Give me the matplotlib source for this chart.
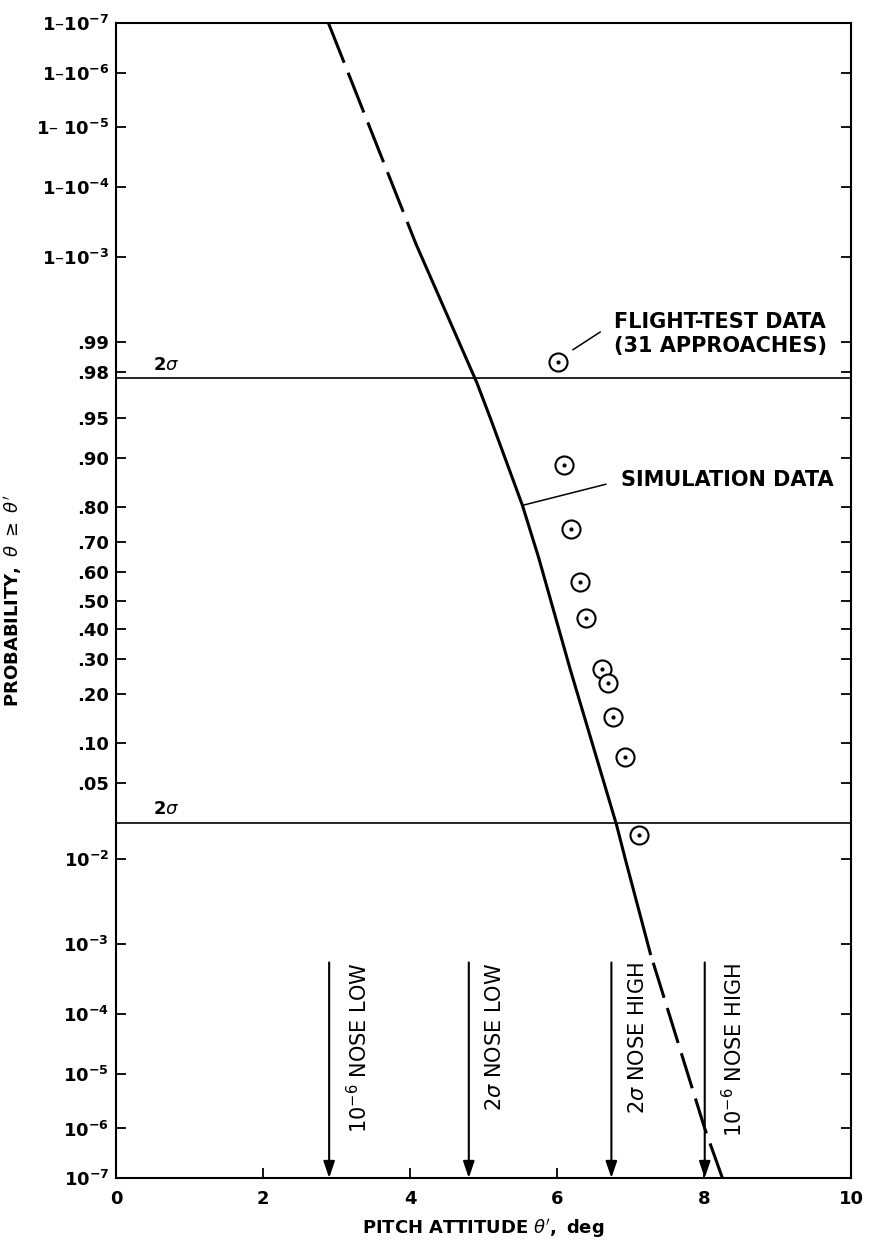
import math
import numpy as np
import matplotlib
matplotlib.use('Agg')
import matplotlib.pyplot as plt
from matplotlib.ticker import FixedLocator, NullLocator

plt.rcParams['font.family'] = 'DejaVu Sans'
plt.rcParams['mathtext.fontset'] = 'dejavusans'

# --- data ---
# simulation curve (pitch attitude deg, probability theta >= theta')
sim_hi_x = [2.89, 4.08]                       # dashed extrapolation, top
sim_hi_p = [1 - 1e-7, 0.99934]
sim_x = [4.08, 4.91, 5.10, 5.53, 5.75, 6.18, 6.81, 6.93, 7.27]
sim_p = [0.99934, 0.9750, 0.9484, 0.804, 0.6506, 0.2676, 0.0217, 0.0099, 7.4e-4]
sim_lo_x = [8.25, 8.01, 7.27]                 # dashed extrapolation, bottom (drawn upward)
sim_lo_p = [1e-7, 1e-6, 7.4e-4]

# flight-test data (31 approaches)
ft_x = [6.02, 6.10, 6.19, 6.31, 6.39, 6.61, 6.69, 6.76, 6.93, 7.11]
ft_p = [0.9842, 0.8886, 0.7389, 0.5655, 0.4368, 0.2699, 0.2293, 0.1473, 0.0796, 0.0175]

# 2 sigma levels
two_sigma_p = [0.02275, 0.97725]

# limit arrows
arrow_x = [2.90, 4.80, 6.74, 8.01]
arrow_labels = [r'$\mathrm{10^{-6}}$ NOSE LOW', r'2$\sigma$ NOSE LOW',
                r'2$\sigma$ NOSE HIGH', r'$\mathrm{10^{-6}}$ NOSE HIGH']
arrow_top_p = 5.6e-4

prob_ticks = [1e-7, 1e-6, 1e-5, 1e-4, 1e-3, 1e-2, .05, .10, .20, .30, .40, .50,
              .60, .70, .80, .90, .95, .98, .99,
              1 - 1e-3, 1 - 1e-4, 1 - 1e-5, 1 - 1e-6, 1 - 1e-7]
prob_labels = [r'$\mathbf{10^{-7}}$', r'$\mathbf{10^{-6}}$', r'$\mathbf{10^{-5}}$',
               r'$\mathbf{10^{-4}}$', r'$\mathbf{10^{-3}}$', r'$\mathbf{10^{-2}}$',
               '.05', '.10', '.20', '.30', '.40', '.50', '.60', '.70', '.80',
               '.90', '.95', '.98', '.99',
               r'$\mathbf{1–10^{-3}}$', r'$\mathbf{1–10^{-4}}$',
               r'$\mathbf{1–\ 10^{-5}}$', r'$\mathbf{1–10^{-6}}$',
               r'$\mathbf{1–10^{-7}}$']
x_ticks = [0, 2, 4, 6, 8, 10]


# normal probability scale (no scipy available)
_erfc = np.vectorize(math.erfc, otypes=[float])


def norm_cdf(z):
    z = np.asarray(z, dtype=float)
    return 0.5 * _erfc(-z / math.sqrt(2.0))


def norm_ppf(p):
    # Acklam's rational approximation
    a = [-3.969683028665376e+01, 2.209460984245205e+02, -2.759285104469687e+02,
         1.383577518672690e+02, -3.066479806614716e+01, 2.506628277459239e+00]
    b = [-5.447609879822406e+01, 1.615858368580409e+02, -1.556989798598866e+02,
         6.680131188771972e+01, -1.328068155288572e+01]
    c = [-7.784894002430293e-03, -3.223964580411365e-01, -2.400758277161838e+00,
         -2.549732539343734e+00, 4.374664141464968e+00, 2.938163982698783e+00]
    d = [7.784695709041462e-03, 3.224671290700398e-01, 2.445134137142996e+00,
         3.754408661907416e+00]
    p = np.clip(np.asarray(p, dtype=float), 1e-15, 1 - 1e-15)
    plow = 0.02425

    def tail(pp):
        q = np.sqrt(-2 * np.log(pp))
        return ((((((c[0] * q + c[1]) * q + c[2]) * q + c[3]) * q + c[4]) * q + c[5]) /
                ((((d[0] * q + d[1]) * q + d[2]) * q + d[3]) * q + 1))

    q = p - 0.5
    r = q * q
    central = ((((((a[0] * r + a[1]) * r + a[2]) * r + a[3]) * r + a[4]) * r + a[5]) * q /
               (((((b[0] * r + b[1]) * r + b[2]) * r + b[3]) * r + b[4]) * r + 1))
    lower = tail(np.minimum(p, 0.5))
    upper = -tail(np.minimum(1 - p, 0.5))
    return np.where(p < plow, lower, np.where(p > 1 - plow, upper, central))


fig = plt.figure(figsize=(8.69, 12.44), dpi=100)
ax = fig.add_axes([116 / 869, 66 / 1244, 735 / 869, 1155 / 1244])
ax.set_yscale('function', functions=(norm_ppf, norm_cdf))
ax.set_xlim(0, 10)
ax.set_ylim(1e-7, 1 - 1e-7)

for s in ax.spines.values():
    s.set_linewidth(1.5)

# simulation curve
ax.plot(sim_hi_x, sim_hi_p, color='black', lw=2.2, dashes=(14, 3.5))
ax.plot(sim_x, sim_p, color='black', lw=2.2)
ax.plot(sim_lo_x, sim_lo_p, color='black', lw=2.2, dashes=(12, 3.5))

# 2 sigma lines
for p in two_sigma_p:
    ax.axhline(p, color='black', lw=1.2)
    ax.annotate(r'$\mathbf{2}\mathit{\sigma}$', xy=(0.5, p), xytext=(0, 3),
                textcoords='offset points', ha='left', va='bottom', fontsize=13)

# flight-test points
ax.plot(ft_x, ft_p, 'o', ms=13, mfc='white', mec='black', mew=1.5)
ax.plot(ft_x, ft_p, 'o', ms=2, color='black')

# arrows
for xa, lab in zip(arrow_x, arrow_labels):
    ax.annotate('', xy=(xa, 1e-7), xytext=(xa, arrow_top_p),
                arrowprops=dict(arrowstyle='-|>,head_length=0.5,head_width=0.17',
                                mutation_scale=20, color='black', lw=1.5,
                                shrinkA=0, shrinkB=0))
    ax.annotate(lab, xy=(xa, arrow_top_p), xytext=(12, 0), textcoords='offset points',
                rotation=90, ha='left', va='top', fontsize=15)

# callouts
ax.annotate('FLIGHT-TEST DATA\n(31 APPROACHES)', xy=(6.12, 0.98666),
            xytext=(6.77, 0.99172), ha='left', va='center', fontsize=15,
            fontweight='bold', linespacing=1.25,
            arrowprops=dict(arrowstyle='-', color='black', lw=1.1,
                            relpos=(0, 0.75), shrinkA=9, shrinkB=6))
ax.annotate('SIMULATION DATA', xy=(5.53, 0.8041), xytext=(6.87, 0.8602),
            ha='left', va='center', fontsize=15, fontweight='bold',
            arrowprops=dict(arrowstyle='-', color='black', lw=1.1,
                            relpos=(0, 0.5), shrinkA=9, shrinkB=0))

# axes ticks and labels
ax.yaxis.set_major_locator(FixedLocator(prob_ticks))
ax.yaxis.set_minor_locator(NullLocator())
ax.set_yticklabels(prob_labels)
ax.set_xticks(x_ticks)
ax.set_xticklabels([str(v) for v in x_ticks])
ax.tick_params(axis='y', direction='in', length=7, width=1.3, right=True,
               labelsize=13, pad=5)
ax.tick_params(axis='x', direction='in', length=7, width=1.3, labelsize=13, pad=9)
for t in ax.get_xticklabels() + ax.get_yticklabels():
    t.set_fontweight('bold')

ax.set_ylabel(r'$\mathbf{PROBABILITY,}\ \mathit{\theta}\ \geq\ \mathit{\theta}^{\prime}$',
              fontsize=13)
ax.yaxis.set_label_coords(-0.125, 0.5)
ax.set_xlabel(r"$\mathbf{PITCH\ ATTITUDE}\ \mathit{\theta}^{\prime}\mathbf{,\ deg}$",
              fontsize=13, labelpad=6)

fig.savefig('out.png', dpi=100)
